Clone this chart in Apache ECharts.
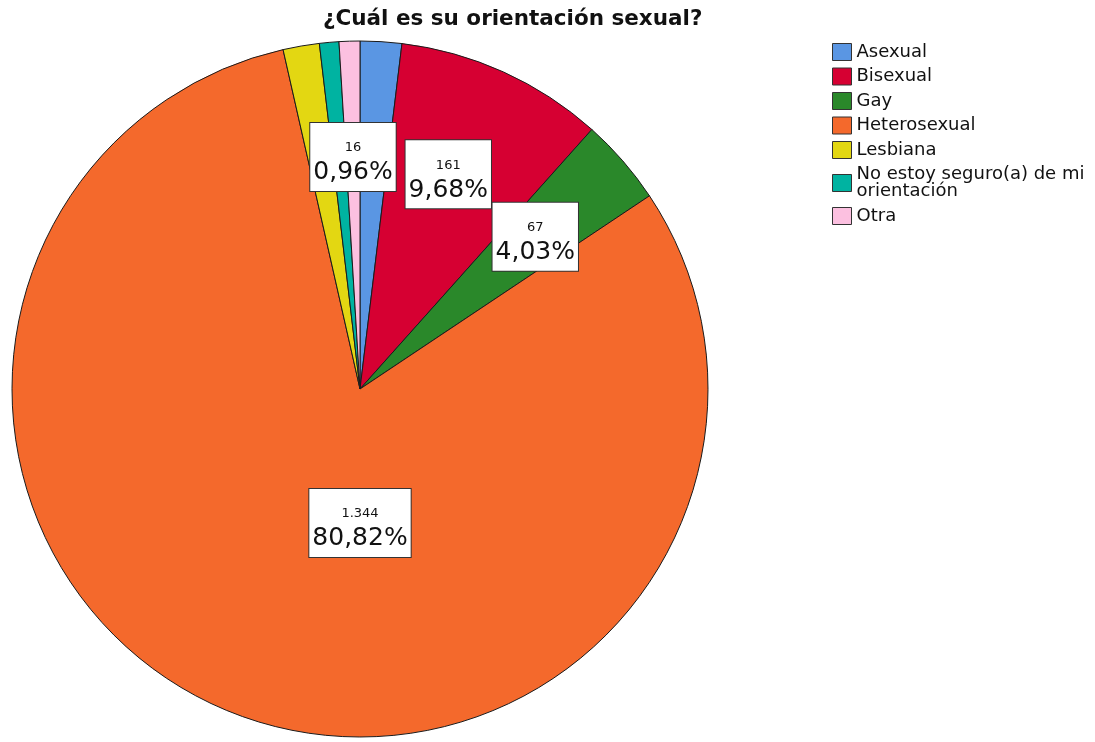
<!DOCTYPE html>
<html>
<head>
<meta charset="utf-8">
<script src="https://cdn.jsdelivr.net/npm/echarts@6/dist/echarts.min.js"></script>
<style>
html,body{margin:0;padding:0;background:#fff;}
#chart{width:1095px;height:742px;}
</style>
</head>
<body>
<div id="chart"></div>
<script>
const categories = ['Asexual', 'Bisexual', 'Gay', 'Heterosexual', 'Lesbiana', 'No estoy seguro(a) de mi orientación', 'Otra'];
const counts = [32, 161, 67, 1344, 28, 15, 16];
const colors = ['#5a96e3', '#d60032', '#2a882a', '#f4692c', '#e3d712', '#00b3a1', '#fcc0e0'];
const labeled = [false, true, true, true, false, false, true];
const titleText = '¿Cuál es su orientación sexual?';

const total = counts.reduce((a, b) => a + b, 0);
const CX = 360, CY = 389, R = 348;

function fmtCount(v) {
  return String(v).replace(/\B(?=(\d{3})+(?!\d))/g, '.');
}
function fmtPct(v) {
  return (v / total * 100).toFixed(2).replace('.', ',') + '%';
}

const chart = echarts.init(document.getElementById('chart'), null, {renderer: 'canvas'});
const data = categories.map((name, i) => ({
  name: name,
  value: counts[i],
  itemStyle: {color: colors[i]},
  label: {show: labeled[i]}
}));

chart.setOption({
  animation: false,
  title: {
    text: titleText,
    left: 318,
    top: 3,
    textStyle: {fontFamily: 'DejaVu Sans', fontWeight: 'bold', fontSize: 21.5, color: '#111'}
  },
  legend: {
    orient: 'vertical',
    left: 827,
    top: 38,
    itemWidth: 19,
    itemHeight: 17,
    itemGap: 6.5,
    icon: 'rect',
    selectedMode: false,
    itemStyle: {borderColor: '#333', borderWidth: 1},
    textStyle: {fontFamily: 'DejaVu Sans', fontSize: 18, lineHeight: 17, color: '#111'},
    formatter: function (name) { return name.replace('de mi ', 'de mi\n'); },
    data: categories
  },
  series: [{
    type: 'pie',
    center: [CX, CY],
    radius: R,
    startAngle: 90,
    clockwise: true,
    silent: true,
    itemStyle: {borderColor: '#1a1a1a', borderWidth: 1},
    label: {
      position: 'inside',
      formatter: function (p) { return '{c|' + fmtCount(p.value) + '}\n{p|' + fmtPct(p.value) + '}'; },
      backgroundColor: '#fff',
      borderColor: '#333',
      borderWidth: 1,
      padding: [14, 3, 4, 3],
      align: 'center',
      rich: {
        c: {fontFamily: 'DejaVu Sans', fontSize: 13, lineHeight: 22, color: '#111', align: 'center'},
        p: {fontFamily: 'DejaVu Sans', fontSize: 25, lineHeight: 28, color: '#111', align: 'center'}
      }
    },
    labelLine: {show: false},
    labelLayout: function (params) {
      const i = params.dataIndex;
      let before = 0;
      for (let k = 0; k < i; k++) before += counts[k];
      let ang = (before + counts[i] / 2) / total * 360;
      let f = 0.667;
      if (categories[i] === 'Heterosexual') { ang = 180; f = 0.385; }
      if (categories[i] === 'Bisexual') { ang -= 2; }
      const rad = ang * Math.PI / 180;
      return {
        x: CX + f * R * Math.sin(rad),
        y: CY - f * R * Math.cos(rad),
        align: 'center',
        verticalAlign: 'middle'
      };
    },
    data: data
  }]
});
</script>
</body>
</html>
